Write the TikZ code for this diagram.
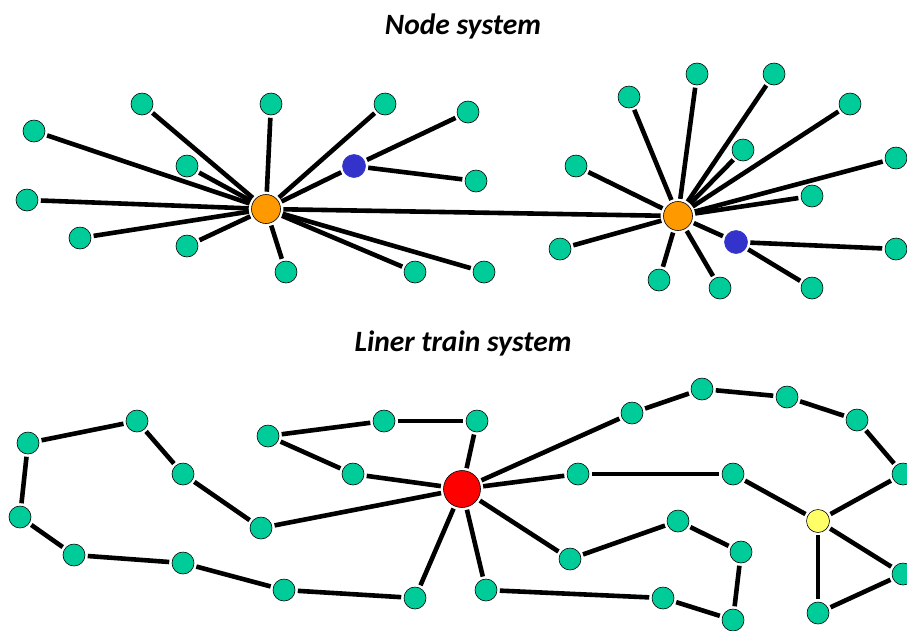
\documentclass[tikz,border=0pt]{standalone}
\usepackage{fontspec}
\setmainfont{Carlito}
\definecolor{gr}{RGB}{0,204,153}
\definecolor{org}{RGB}{255,153,0}
\definecolor{blu}{RGB}{51,51,204}
\definecolor{rd}{RGB}{255,0,0}
\definecolor{yl}{RGB}{255,255,102}
\tikzset{
  g/.style={circle,draw=black,line width=0.6pt,fill=gr,minimum size=22pt,inner sep=0pt},
  hubo/.style={g,fill=org,minimum size=29pt},
  hubb/.style={g,fill=blu,draw=blu,minimum size=23pt},
  hubr/.style={g,fill=rd,minimum size=37pt},
  huby/.style={g,fill=yl,minimum size=23pt},
  e/.style={line width=4.6pt,shorten >=2.5pt,shorten <=2.5pt},
  ttl/.style={font=\fontsize{29.5}{32}\selectfont\bfseries\itshape}
}
\begin{document}
\begin{tikzpicture}[x=1pt,y=-1pt]
\useasboundingbox (0,0) rectangle (907,630);
\node[ttl] (t1) at (463,26) {Node system};
\node[ttl] (t2) at (463,343) {Liner train system};
% top left cluster
\node[hubo] (h1) at (266,209) {};
\node[hubb] (b1) at (354,166) {};
\foreach \n/\x/\y in {a1/34/131,a2/142/104,a3/271/104,a4/385/104,a5/187/166,a6/27/200,a7/80/238,a8/187/246,a9/286/272,a10/415/272,a11/484/272}
  {\node[g] (\n) at (\x,\y) {}; \draw[e] (h1) -- (\n);}
\node[g] (a12) at (468,112) {};
\node[g] (a13) at (476,181) {};
\draw[e] (h1) -- (b1);
\draw[e] (b1) -- (a12);
\draw[e] (b1) -- (a13);
% top right cluster
\node[hubo] (h2) at (678,216) {};
\node[hubb] (b2) at (736,242) {};
\foreach \n/\x/\y in {c1/629/97,c2/697/74,c3/774/74,c4/850/104,c5/743/150,c6/896/158,c7/576/166,c8/812/196,c9/560/249,c10/659/280,c11/720/288}
  {\node[g] (\n) at (\x,\y) {}; \draw[e] (h2) -- (\n);}
\node[g] (c12) at (896,249) {};
\node[g] (c13) at (812,288) {};
\draw[e] (h2) -- (b2);
\draw[e] (b2) -- (c12);
\draw[e] (b2) -- (c13);
\draw[e] (h1) -- (h2);
% bottom network
\node[hubr] (R) at (462,489) {};
\node[huby] (Yw) at (818,521) {};
\foreach \n/\x/\y in {A/28/443,B/137/421,C/183/474,D/261/528,E/20/517,F/74/555,G/183/563,H/284/590,I/415/598,J/268/436,K/384/421,L/477/421,M/353/474,N/486/590,P/632/413,Q/702/389,Rr/787/397,S/857/420,T/903/474,U/578/474,V/733/474,W/678/521,X/741/552,Y/570/559,Z/663/598,AA/733/620,BB/903/574,CC/818/613}
  {\node[g] (\n) at (\x,\y) {};}
\foreach \p/\q in {A/B,B/C,C/D,D/R,A/E,E/F,F/G,G/H,H/I,I/R,J/K,K/L,L/R,J/M,M/R,R/N,R/P,P/Q,Q/Rr,Rr/S,S/T,T/Yw,R/U,U/V,V/Yw,R/Y,Y/W,W/X,X/AA,AA/Z,Z/N,Yw/BB,Yw/CC,CC/BB}
  {\draw[e] (\p) -- (\q);}
\end{tikzpicture}
\end{document}
